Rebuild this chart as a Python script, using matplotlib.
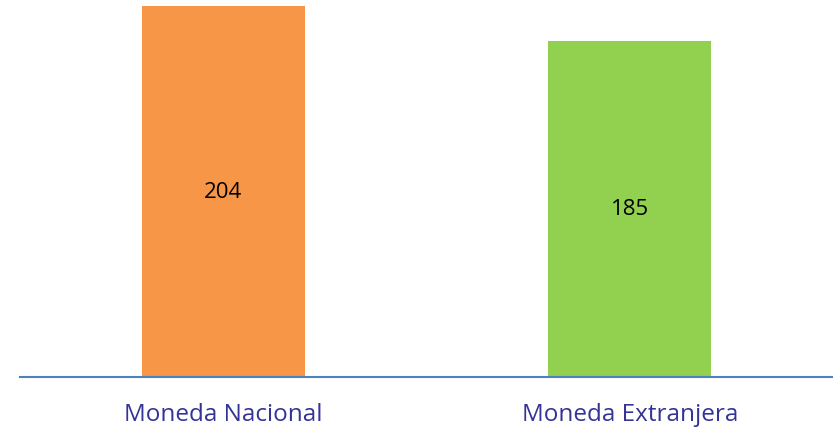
import matplotlib
matplotlib.use("Agg")
import matplotlib.pyplot as plt

categories = ["Moneda Nacional", "Moneda Extranjera"]
values = [204, 185]
colors = ["#F79646", "#92D050"]

fig = plt.figure(figsize=(8.33, 4.31), dpi=100)
ax = fig.add_axes([0.024, 0.123, 0.976, 0.877])
x = range(len(values))
bars = ax.bar(x, values, width=0.4, color=colors)
for xi, v in zip(x, values):
    ax.text(xi, v / 2, str(v), ha="center", va="center", fontsize=16,
            family="Open Sans", color="black")
ax.set_xlim(-0.5, 1.5)
ax.set_ylim(0, 208)
ax.set_xticks(list(x))
ax.set_xticklabels(categories, fontsize=17.5, color="#343497", family="Open Sans")
ax.tick_params(axis="x", length=0, pad=18)
ax.set_yticks([])
for s in ["top", "right", "left"]:
    ax.spines[s].set_visible(False)
ax.spines["bottom"].set_color("#4F81BD")
ax.spines["bottom"].set_linewidth(1.5)
fig.savefig("out.png", dpi=100)
